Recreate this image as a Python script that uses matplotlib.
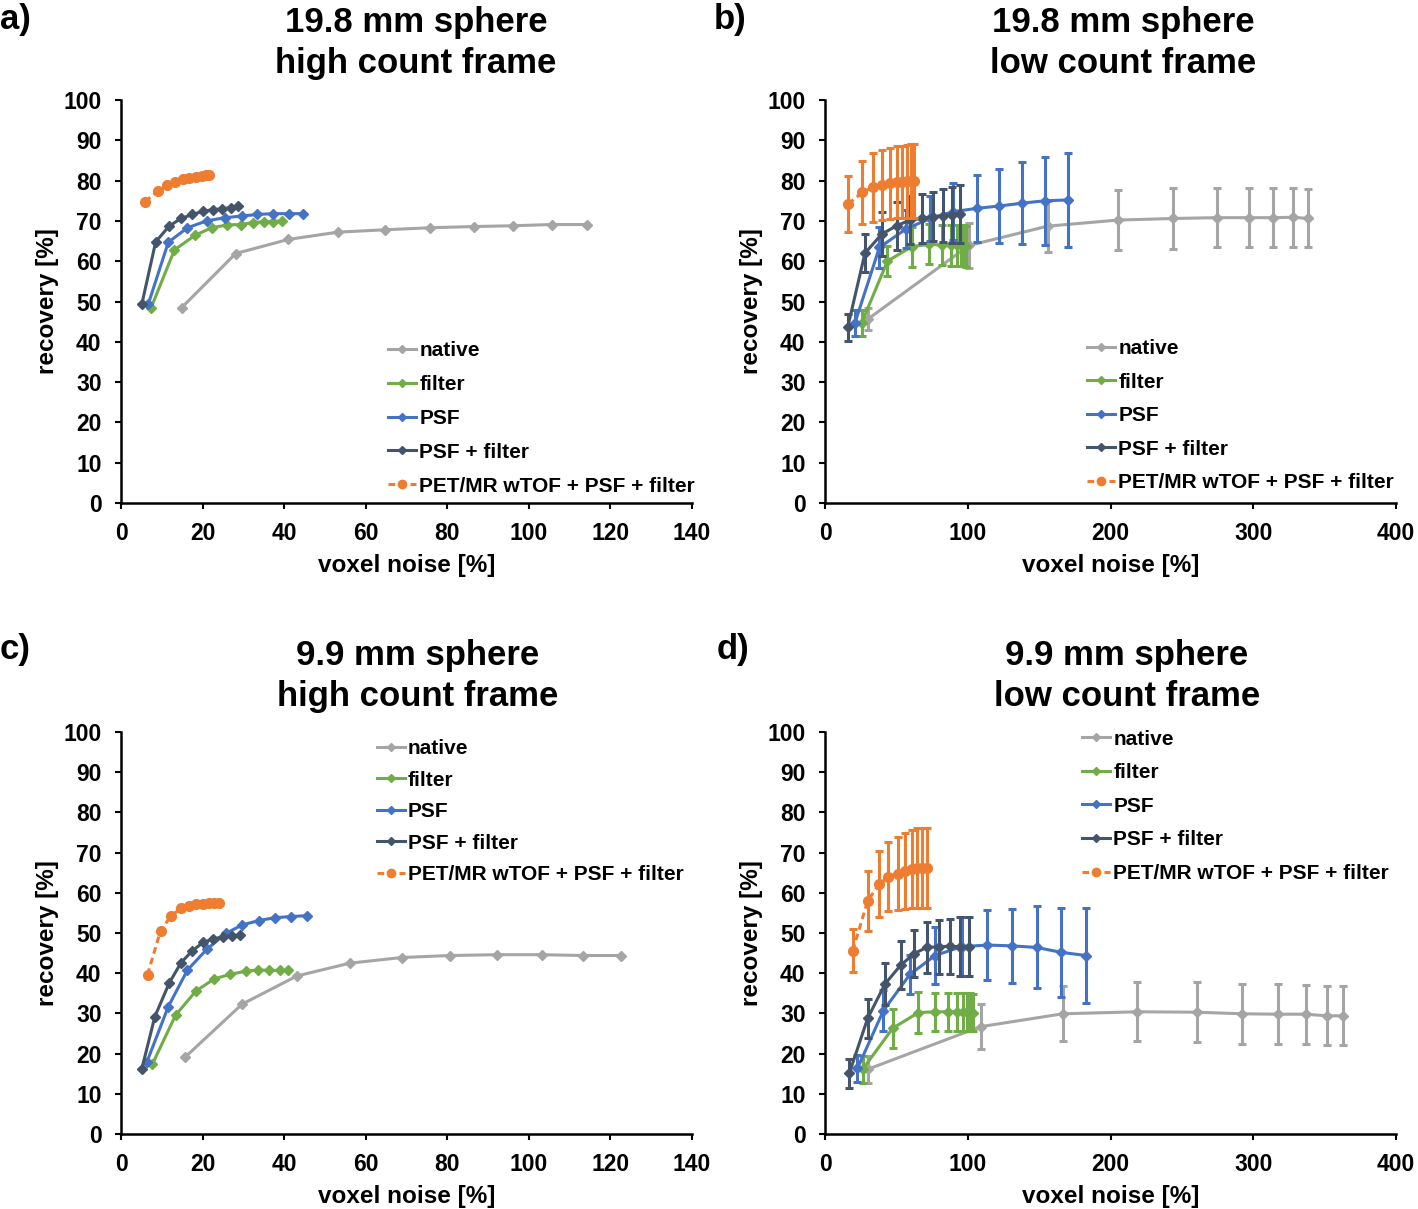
import matplotlib
matplotlib.use("Agg")
import matplotlib.pyplot as plt
from matplotlib.lines import Line2D

plt.rcParams['font.family'] = ['Liberation Sans', 'DejaVu Sans']
plt.rcParams['font.weight'] = 'bold'

series_names = ["native", "filter", "PSF", "PSF + filter", "PET/MR wTOF + PSF + filter"]
colors = ["#A5A5A5", "#70AD47", "#4472C4", "#44546A", "#ED7D31"]

# ---- panel a: 19.8 mm sphere, high count frame ----
a_native_x = [14.9, 28.1, 41.0, 53.1, 64.7, 75.8, 86.5, 96.2, 105.6, 114.3]
a_native_y = [48.5, 61.9, 65.4, 67.2, 67.8, 68.3, 68.6, 68.8, 69.1, 69.1]
a_filter_x = [7.4, 13.1, 18.1, 22.2, 26.1, 29.4, 32.4, 35.0, 37.3, 39.4]
a_filter_y = [48.5, 62.8, 66.4, 68.3, 69.0, 69.1, 69.6, 69.8, 69.8, 70.0]
a_psf_x = [6.7, 11.6, 16.3, 21.0, 25.5, 29.6, 33.4, 37.3, 41.2, 44.6]
a_psf_y = [49.4, 64.7, 68.3, 70.0, 70.8, 71.2, 71.6, 71.8, 71.8, 71.8]
a_psff_x = [5.1, 8.5, 11.8, 14.7, 17.5, 20.2, 22.6, 24.8, 27.0, 28.8]
a_psff_y = [49.3, 64.8, 68.7, 70.6, 71.6, 72.4, 72.8, 73.0, 73.3, 73.7]
a_mr_x = [5.9, 9.1, 11.4, 13.2, 15.1, 16.7, 18.4, 19.8, 20.8, 21.6]
a_mr_y = [74.8, 77.5, 78.9, 79.7, 80.3, 80.7, 81.0, 81.2, 81.4, 81.5]

# ---- panel b: 19.8 mm sphere, low count frame ----
b_native_x = [29.9, 100.9, 156.0, 205.0, 244.0, 274.4, 297.3, 314.1, 327.6, 338.6]
b_native_y = [45.6, 63.9, 68.7, 70.2, 70.6, 70.8, 70.8, 70.8, 70.9, 70.6]
b_native_e = [2.7, 5.6, 6.3, 7.4, 7.5, 7.4, 7.4, 7.4, 7.3, 7.2]
b_filter_x = [25.7, 43.7, 60.7, 73.1, 81.7, 88.0, 92.5, 95.5, 97.5, 99.0]
b_filter_y = [44.7, 60.0, 63.6, 64.2, 64.0, 64.0, 64.0, 63.9, 63.8, 63.7]
b_filter_e = [3.3, 3.7, 5.0, 5.0, 5.0, 5.1, 5.1, 5.1, 5.1, 5.1]
b_psf_x = [21.0, 38.1, 56.7, 73.6, 89.9, 106.2, 122.1, 138.2, 154.1, 170.0]
b_psf_y = [44.7, 63.4, 68.0, 70.6, 72.3, 73.1, 73.7, 74.4, 75.0, 75.2]
b_psf_e = [3.3, 5.0, 4.8, 5.6, 7.0, 8.3, 9.3, 10.2, 10.9, 11.7]
b_psff_x = [15.9, 28.0, 39.7, 50.2, 59.5, 67.7, 75.4, 82.9, 89.2, 94.6]
b_psff_y = [43.6, 62.0, 66.7, 68.8, 70.2, 70.6, 71.0, 71.3, 71.5, 71.7]
b_psff_e = [3.3, 4.8, 5.4, 5.9, 6.0, 6.1, 6.1, 6.6, 7.0, 7.2]
b_mr_x = [16.3, 26.2, 33.4, 39.7, 45.5, 50.2, 54.2, 57.2, 60.0, 62.3]
b_mr_y = [74.2, 77.1, 78.3, 78.9, 79.3, 79.6, 79.7, 79.8, 79.9, 79.9]
b_mr_e = [6.9, 7.8, 8.5, 8.6, 8.8, 8.9, 9.0, 9.0, 9.1, 9.1]

# ---- panel c: 9.9 mm sphere, high count frame ----
c_native_x = [15.7, 29.7, 43.1, 56.1, 68.8, 80.6, 92.2, 103.1, 113.2, 122.5]
c_native_y = [19.1, 32.3, 39.3, 42.5, 43.9, 44.4, 44.6, 44.6, 44.4, 44.4]
c_filter_x = [7.7, 13.4, 18.4, 22.9, 26.7, 30.6, 33.7, 36.4, 39.0, 41.0]
c_filter_y = [17.4, 29.6, 35.6, 38.6, 39.7, 40.5, 40.8, 40.7, 40.7, 40.7]
c_psf_x = [6.3, 11.6, 16.3, 21.0, 25.7, 29.7, 33.8, 37.7, 41.6, 45.5]
c_psf_y = [17.8, 31.7, 40.8, 45.9, 49.9, 52.0, 53.1, 53.8, 54.1, 54.3]
c_psff_x = [5.1, 8.3, 11.8, 14.7, 17.5, 20.2, 22.6, 25.1, 27.3, 29.2]
c_psff_y = [16.2, 29.2, 37.5, 42.6, 45.6, 47.7, 48.5, 49.1, 49.3, 49.5]
c_mr_x = [6.5, 9.7, 12.3, 14.7, 16.7, 18.5, 20.2, 21.6, 22.9, 24.0]
c_mr_y = [39.6, 50.6, 54.3, 56.1, 56.8, 57.1, 57.3, 57.4, 57.4, 57.4]

# ---- panel d: 9.9 mm sphere, low count frame ----
d_native_x = [29.9, 109.0, 166.5, 218.8, 260.4, 292.4, 317.6, 336.8, 351.5, 363.2]
d_native_y = [16.1, 26.7, 29.9, 30.4, 30.3, 29.9, 29.8, 29.8, 29.4, 29.4]
d_native_e = [3.4, 5.6, 6.8, 7.3, 7.4, 7.4, 7.4, 7.3, 7.3, 7.3]
d_filter_x = [26.4, 47.4, 65.4, 77.1, 85.9, 92.2, 96.4, 99.5, 101.8, 103.5]
d_filter_y = [16.1, 26.3, 30.2, 30.4, 30.4, 30.4, 30.4, 30.3, 30.3, 30.2]
d_filter_e = [3.4, 4.9, 5.0, 4.7, 4.7, 4.7, 4.7, 4.7, 4.7, 4.7]
d_psf_x = [22.7, 40.9, 59.5, 77.1, 95.7, 113.7, 131.2, 148.3, 165.3, 182.8]
d_psf_y = [16.3, 30.7, 39.7, 44.4, 46.6, 47.0, 46.8, 46.4, 45.2, 44.4]
d_psf_e = [3.4, 5.0, 4.8, 7.2, 7.3, 8.7, 9.2, 10.2, 11.0, 11.7]
d_psff_x = [17.0, 29.9, 42.0, 53.0, 62.6, 71.2, 80.1, 87.6, 94.6, 100.9]
d_psff_y = [15.1, 28.8, 37.3, 42.0, 44.9, 46.4, 46.6, 46.7, 46.6, 46.6]
d_psff_e = [3.6, 4.8, 5.3, 6.0, 5.9, 6.3, 6.7, 6.9, 7.3, 7.3]
d_mr_x = [19.4, 29.9, 38.1, 44.4, 50.9, 56.0, 60.7, 64.7, 68.2, 71.2]
d_mr_y = [45.6, 58.0, 62.2, 64.0, 64.8, 65.5, 65.8, 66.1, 66.2, 66.2]
d_mr_e = [5.3, 7.5, 8.3, 8.6, 9.2, 9.5, 9.7, 9.9, 9.9, 9.9]

titles = ["19.8 mm sphere\nhigh count frame", "19.8 mm sphere\nlow count frame",
          "9.9 mm sphere\nhigh count frame", "9.9 mm sphere\nlow count frame"]
panel_labels = ["a)", "b)", "c)", "d)"]
x_ticks_high = [0, 20, 40, 60, 80, 100, 120, 140]
x_ticks_low = [0, 100, 200, 300, 400]
y_ticks = [0, 10, 20, 30, 40, 50, 60, 70, 80, 90, 100]

panels = [
    dict(data=[(a_native_x, a_native_y, None), (a_filter_x, a_filter_y, None), (a_psf_x, a_psf_y, None),
               (a_psff_x, a_psff_y, None), (a_mr_x, a_mr_y, None)], xticks=x_ticks_high),
    dict(data=[(b_native_x, b_native_y, b_native_e), (b_filter_x, b_filter_y, b_filter_e),
               (b_psf_x, b_psf_y, b_psf_e), (b_psff_x, b_psff_y, b_psff_e), (b_mr_x, b_mr_y, b_mr_e)],
         xticks=x_ticks_low),
    dict(data=[(c_native_x, c_native_y, None), (c_filter_x, c_filter_y, None), (c_psf_x, c_psf_y, None),
               (c_psff_x, c_psff_y, None), (c_mr_x, c_mr_y, None)], xticks=x_ticks_high),
    dict(data=[(d_native_x, d_native_y, d_native_e), (d_filter_x, d_filter_y, d_filter_e),
               (d_psf_x, d_psf_y, d_psf_e), (d_psff_x, d_psff_y, d_psff_e), (d_mr_x, d_mr_y, d_mr_e)],
         xticks=x_ticks_low),
]

W, H = 1418, 1209
fig = plt.figure(figsize=(W / 100, H / 100), dpi=100)

# axes boxes in pixels: (left, right, top, bottom)
boxes = [(121, 692, 100, 503), (825, 1396, 100, 503), (121, 692, 732, 1134), (825, 1396, 732, 1134)]
title_cx = [416, 1123, 418, 1127]
title_cy = [43, 43, 676, 676]
label_pos = [(0, 19), (714, 19), (0, 650), (717, 650)]
legend_anchor = [(0.4676, 0.401), (0.459, 0.406), (0.448, 0.982), (0.450, 1.006)]
legend_spacing = [0.71, 0.69, 0.6, 0.7]

for i, (box, p) in enumerate(zip(boxes, panels)):
    l, r, t, b = box
    ax = fig.add_axes([l / W, 1 - b / H, (r - l) / W, (b - t) / H])
    for j, (xs, ys, es) in enumerate(p["data"]):
        is_mr = (j == 4)
        ls = (0, (2.2, 1.4)) if is_mr else '-'
        marker = 'o' if is_mr else 'D'
        ms = 7 if is_mr else 5.5
        if es is not None:
            ax.errorbar(xs, ys, yerr=es, color=colors[j], ecolor=colors[j], elinewidth=2.2,
                        capsize=2.8, capthick=2.2, linestyle=ls, linewidth=2.2, marker=marker,
                        markersize=ms, label=series_names[j], zorder=2 + j)
        else:
            ax.plot(xs, ys, color=colors[j], linestyle=ls, linewidth=2.2, marker=marker,
                    markersize=ms, label=series_names[j], zorder=2 + j)
    xt = p["xticks"]
    ax.set_xlim(xt[0], xt[-1])
    ax.set_ylim(0, 100)
    ax.set_xticks(xt)
    ax.set_yticks(y_ticks)
    ax.tick_params(axis='both', direction='out', length=4, width=1.5, labelsize=16.5, pad=10)
    for lab in ax.get_xticklabels() + ax.get_yticklabels():
        lab.set_fontweight('bold')
    for s in ['top', 'right']:
        ax.spines[s].set_visible(False)
    for s in ['left', 'bottom']:
        ax.spines[s].set_linewidth(1.8)
    ax.set_xlabel("voxel noise [%]", fontsize=17.5, fontweight='bold', labelpad=6)
    ax.set_ylabel("recovery [%]", fontsize=17.5, fontweight='bold', labelpad=3)
    ax.patch.set_alpha(0)

    handles = []
    for j in range(5):
        is_mr = (j == 4)
        handles.append(Line2D([], [], color=colors[j], linestyle=(0, (2.2, 1.4)) if is_mr else '-',
                              linewidth=2.2, marker='o' if is_mr else 'D', markersize=6 if is_mr else 4.5))
    leg = ax.legend(handles, series_names, loc='upper left', bbox_to_anchor=legend_anchor[i],
                    frameon=False, fontsize=15, handlelength=1.35, handletextpad=0.15,
                    labelspacing=legend_spacing[i], borderpad=0, borderaxespad=0)
    for tx in leg.get_texts():
        tx.set_fontweight('bold')

    fig.text(title_cx[i] / W, 1 - title_cy[i] / H, titles[i], ha='center', va='center', fontsize=25,
             fontweight='bold', linespacing=1.31)
    fig.text(label_pos[i][0] / W, 1 - label_pos[i][1] / H, panel_labels[i], ha='left', va='center',
             fontsize=25, fontweight='bold')

fig.savefig("out.png", dpi=100)
